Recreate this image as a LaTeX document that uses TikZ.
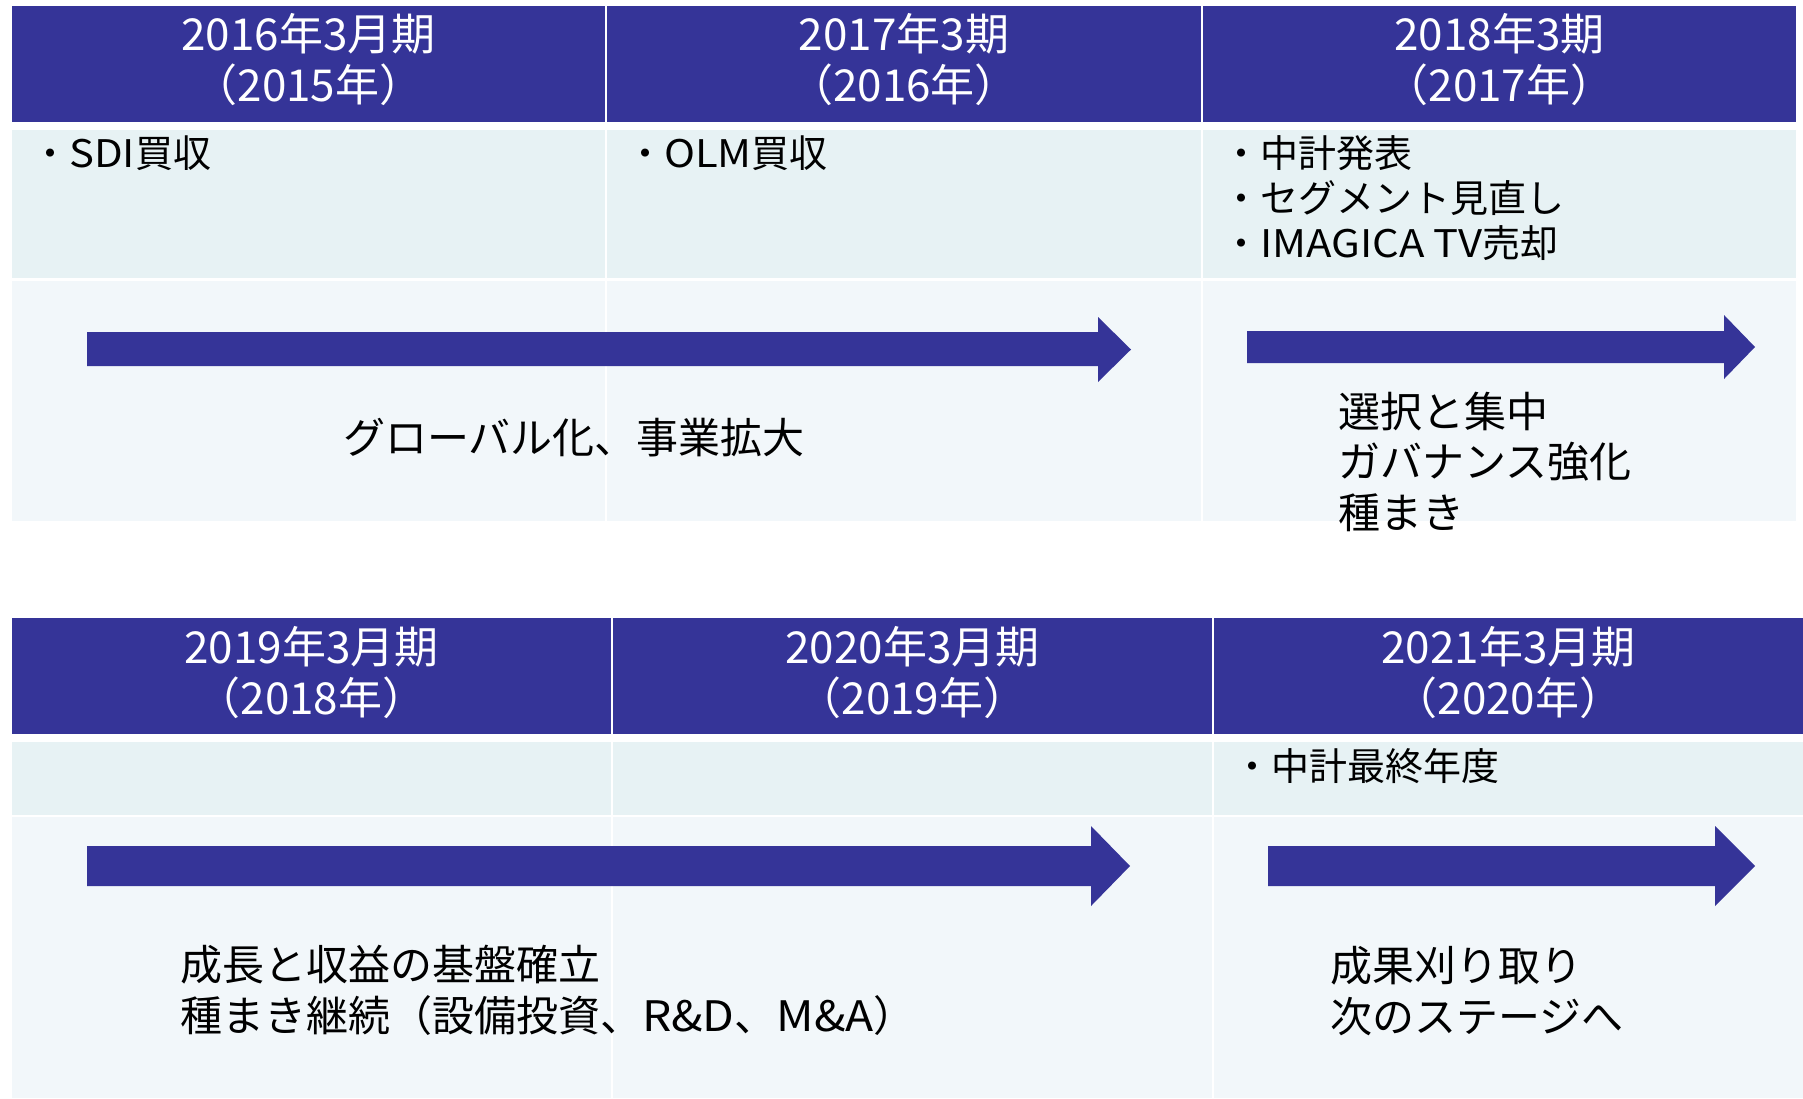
\documentclass[tikz,border=0pt]{standalone}
\usepackage{fontspec}
\setmainfont{Noto Sans CJK JP}
\newfontfamily\latwide{Noto Sans CJK JP}[FakeStretch=1.1]
\newcommand{\lw}[1]{{\latwide #1}}
\definecolor{hdrblue}{RGB}{53,52,152}
\definecolor{rowa}{RGB}{231,242,244}
\definecolor{rowb}{RGB}{242,247,250}
\tikzset{
 hdrcell/.style={fill=hdrblue},
 rowacell/.style={fill=rowa},
 rowbcell/.style={fill=rowb},
 blockarrow/.style={fill=hdrblue},
 htext/.style={text=white, inner sep=0pt, anchor=base, font=\fontsize{44}{53}\selectfont},
 btext/.style={text=black, inner sep=0pt, anchor=base west, font=\fontsize{38}{45}\selectfont},
 bigtext/.style={text=black, inner sep=0pt, anchor=base west, font=\fontsize{42}{51}\selectfont},
}
\begin{document}
\begin{tikzpicture}[x=1pt,y=-1pt]
\useasboundingbox (0,0) rectangle (1803,1098);
\fill[white] (0,0) rectangle (1803,1098);
% ---------- top table ----------
\fill[hdrcell] (12,6) rectangle (605,122);
\fill[hdrcell] (607,6) rectangle (1201,122);
\fill[hdrcell] (1203,6) rectangle (1796,122);
\fill[rowacell] (12,130) rectangle (605,278);
\fill[rowacell] (607,130) rectangle (1201,278);
\fill[rowacell] (1203,130) rectangle (1796,278);
\fill[rowbcell] (12,281) rectangle (605,521);
\fill[rowbcell] (607,281) rectangle (1201,521);
\fill[rowbcell] (1203,281) rectangle (1796,521);
% ---------- bottom table ----------
\fill[hdrcell] (12,618) rectangle (611,734);
\fill[hdrcell] (613,618) rectangle (1212,734);
\fill[hdrcell] (1214,618) rectangle (1803,734);
\fill[rowacell] (12,742) rectangle (611,815);
\fill[rowacell] (613,742) rectangle (1212,815);
\fill[rowacell] (1214,742) rectangle (1803,815);
\fill[rowbcell] (12,817) rectangle (611,1098);
\fill[rowbcell] (613,817) rectangle (1212,1098);
\fill[rowbcell] (1214,817) rectangle (1803,1098);
% ---------- arrows ----------
\fill[blockarrow] (87,332) -- (1098,332) -- (1098,317) -- (1131,349.5) -- (1098,382) -- (1098,366) -- (87,366) -- cycle;
\fill[blockarrow] (1247,331) -- (1724,331) -- (1724,315) -- (1755,347) -- (1724,379) -- (1724,363) -- (1247,363) -- cycle;
\fill[blockarrow] (87,846) -- (1091,846) -- (1091,826) -- (1130,866) -- (1091,906) -- (1091,886) -- (87,886) -- cycle;
\fill[blockarrow] (1268,846) -- (1715,846) -- (1715,826) -- (1755,866) -- (1715,906) -- (1715,886) -- (1268,886) -- cycle;
% ---------- header texts ----------
\node[htext] (h1a) at (308.5,50) {2016年3月期};
\node[htext] (h1b) at (308.5,101) {（2015年）};
\node[htext] (h2a) at (904,50) {2017年3期};
\node[htext] (h2b) at (904,101) {（2016年）};
\node[htext] (h3a) at (1499.5,50) {2018年3期};
\node[htext] (h3b) at (1499.5,101) {（2017年）};
\node[htext] (h4a) at (311.5,663) {2019年3月期};
\node[htext] (h4b) at (311.5,714) {（2018年）};
\node[htext] (h5a) at (912.5,663) {2020年3月期};
\node[htext] (h5b) at (912.5,714) {（2019年）};
\node[htext] (h6a) at (1508.5,663) {2021年3月期};
\node[htext] (h6b) at (1508.5,714) {（2020年）};
% ---------- event texts ----------
\node[btext] (e1) at (31,167) {・\lw{SDI}買収};
\node[btext] (e2) at (626,167) {・\lw{OLM}買収};
\node[btext] (e3a) at (1222,167) {・中計発表};
\node[btext] (e3b) at (1222,212) {・セグメント見直し};
\node[btext] (e3c) at (1222,257) {・\lw{IMAGICA TV}売却};
\node[btext] (e6) at (1233,780) {・中計最終年度};
% ---------- phase texts ----------
\node[bigtext] (p1) at (343,453) {グローバル化、事業拡大};
\node[bigtext] (p2a) at (1338,427) {選択と集中};
\node[bigtext] (p2b) at (1338,477) {ガバナンス強化};
\node[bigtext] (p2c) at (1338,528) {種まき};
\node[bigtext] (p3a) at (180,980) {成長と収益の基盤確立};
\node[bigtext] (p3b) at (180,1031) {種まき継続（設備投資、\lw{R\&D}、\lw{M\&A}）};
\node[bigtext] (p4a) at (1330,981) {成果刈り取り};
\node[bigtext] (p4b) at (1330,1032) {次のステージへ};
\end{tikzpicture}
\end{document}
